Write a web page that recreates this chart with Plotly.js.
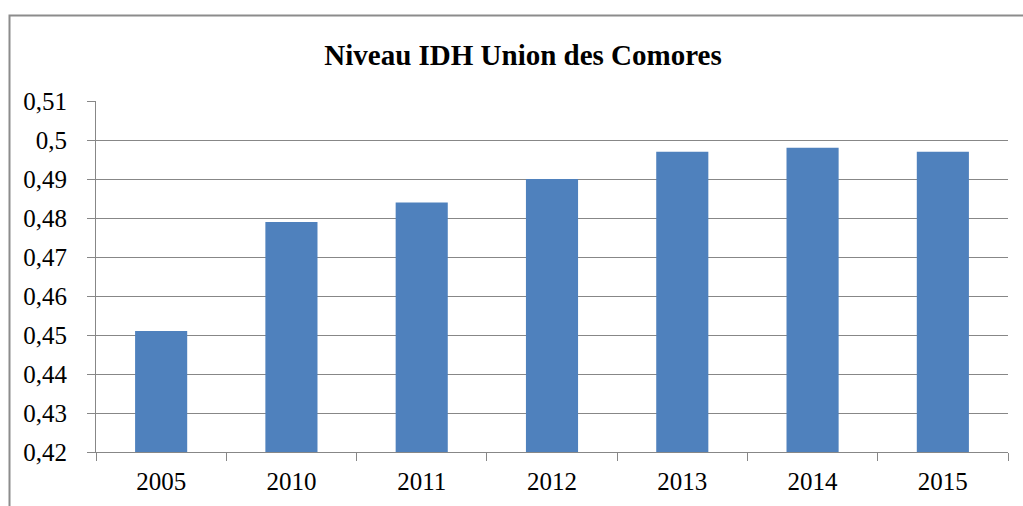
<!DOCTYPE html>
<html><head><meta charset="utf-8">
<script src="https://cdn.plot.ly/plotly-3.0.1.min.js"></script>
<style>html,body{margin:0;padding:0;background:#fff}#chart{width:1023px;height:506px}</style>
</head><body><div id="chart"></div>
<script>
const years = ["2005","2010","2011","2012","2013","2014","2015"];
const idh = [0.451, 0.479, 0.484, 0.490, 0.497, 0.498, 0.497];
const yTicks = [0.42,0.43,0.44,0.45,0.46,0.47,0.48,0.49,0.50,0.51];
const yTickText = ["0,42","0,43","0,44","0,45","0,46","0,47","0,48","0,49","0,5","0,51"];
const titleText = "Niveau IDH Union des Comores";

const font = "Liberation Serif, Times New Roman, serif";
const grid = "#878787";
Plotly.newPlot("chart", [{
  type: "bar", x: years, y: idh,
  marker: {color: "#4F81BD", line: {width: 0}},
  hoverinfo: "x+y"
}], {
  width: 1023, height: 506,
  margin: {l: 96, r: 15, t: 101, b: 54, pad: 0},
  paper_bgcolor: "#fff", plot_bgcolor: "#fff",
  bargap: 0.6,
  showlegend: false,
  font: {family: font, color: "#000", size: 25},
  title: {text: "<b>" + titleText + "</b>", font: {family: font, size: 29, color: "#000"},
          x: 523/1023, xanchor: "center", xref: "container", y: 1 - 55/506, yanchor: "middle", yref: "container"},
  xaxis: {type: "category", showline: true, linecolor: grid, linewidth: 1, ticks: "outside",
          tickson: "boundaries", ticklen: 8, tickcolor: grid, tickwidth: 1, showgrid: false,
          tickfont: {family: font, size: 25, color: "#000"}, ticklabelstandoff: 7, fixedrange: true},
  yaxis: {range: [0.42, 0.51], tickvals: yTicks, ticktext: yTickText, showline: true, linecolor: grid,
          linewidth: 1, ticks: "outside", ticklen: 8, tickcolor: grid, tickwidth: 1,
          showgrid: true, gridcolor: grid, gridwidth: 1, zeroline: false,
          tickfont: {family: font, size: 25, color: "#000"}, ticklabelstandoff: 15, fixedrange: true},
  shapes: [{type: "rect", xref: "paper", yref: "paper",
            x0: (9.5-96)/912, x1: 1.2, y0: -0.4, y1: (452-15.5)/351,
            line: {color: "#8c8c8c", width: 2}, fillcolor: "rgba(0,0,0,0)", layer: "below"}]
}, {displayModeBar: false, staticPlot: true});
</script></body></html>
